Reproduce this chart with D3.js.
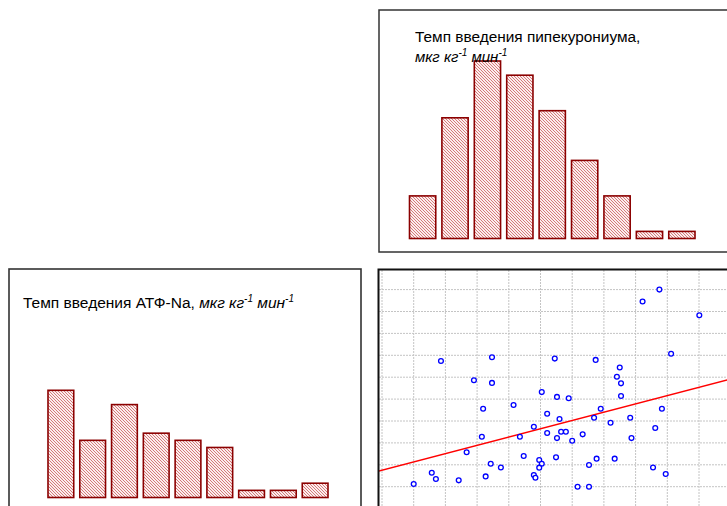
<!DOCTYPE html>
<html>
<head>
<meta charset="utf-8">
<script src="https://cdn.jsdelivr.net/npm/d3@7"></script>
<style>
  html, body { margin: 0; padding: 0; background: #fff; }
  svg { display: block; font-family: "Liberation Sans", Arial, sans-serif; }
</style>
</head>
<body>
<script>
// Histogram: pipecuronium infusion rate (counts per bin)
const pipBins = ["1", "2", "3", "4", "5", "6", "7", "8", "9"];
const pipCounts = [6, 17, 25, 23, 18, 11, 6, 1, 1];

// Histogram: ATP-Na infusion rate (counts per bin)
const atpBins = ["1", "2", "3", "4", "5", "6", "7", "8", "9"];
const atpCounts = [15, 8, 13, 9, 8, 7, 1, 1, 2];

// Scatter: pipecuronium rate (x) vs ATP-Na rate (y), grid units
const scatterX = [8.75, 8.22, 10.01, 9.12, 1.86, 3.47, 5.45, 6.74, 7.50, 7.41,
  7.54, 2.90, 3.47, 5.04, 5.52, 5.89, 7.54, 4.15, 3.19, 6.90,
  8.83, 5.21, 5.60, 6.69, 7.83, 7.21, 4.79, 8.62, 5.21, 5.65,
  5.80, 6.33, 3.15, 4.35, 5.52, 7.87, 6.00, 2.67, 4.47, 5.49,
  6.77, 7.34, 4.96, 3.43, 5.04, 6.53, 3.75, 4.96, 8.55, 1.57,
  8.95, 4.79, 4.84, 3.27, 1.70, 2.42, 1.00, 6.17, 6.53];
const scatterY = [10.00, 9.46, 8.83, 7.07, 6.74, 6.91, 6.85, 6.79, 6.44, 6.02,
  5.72, 5.86, 5.74, 5.32, 5.10, 5.04, 5.14, 4.73, 4.56, 4.56,
  4.56, 4.33, 4.09, 4.15, 4.15, 3.92, 3.74, 3.68, 3.45, 3.51,
  3.51, 3.39, 3.28, 3.28, 3.22, 3.22, 3.10, 2.57, 2.40, 2.34,
  2.28, 2.28, 2.22, 2.05, 2.05, 1.99, 1.88, 1.87, 1.88, 1.64,
  1.58, 1.53, 1.41, 1.47, 1.35, 1.29, 1.12, 1.00, 1.00];

// Regression line y = a + b*x
const fitIntercept = 1.753;
const fitSlope = 0.3785;

// Grid tick values for the scatter panel
const gridX = [0, 1, 2, 3, 4, 5, 6, 7, 8, 9, 10, 11];
const gridY = [1, 2, 3, 4, 5, 6, 7, 8, 9, 10];

const W = 727, H = 506;
const svg = d3.select("body").append("svg")
  .attr("width", W).attr("height", H);

const defs = svg.append("defs");
const hatch = defs.append("pattern")
  .attr("id", "hatch")
  .attr("patternUnits", "userSpaceOnUse")
  .attr("width", 3).attr("height", 3);
hatch.append("rect").attr("width", 3).attr("height", 3).attr("fill", "#fbeeee");
hatch.append("path")
  .attr("d", "M-1,-1 L4,4 M-1,2 L1,4 M2,-1 L4,1")
  .attr("stroke", "#c44848")
  .attr("stroke-width", 0.7);

const clip = defs.append("clipPath").attr("id", "scatterClip");
clip.append("rect").attr("x", 379).attr("y", 270).attr("width", 360).attr("height", 250);

// ---------- panel frames ----------
svg.append("rect")
  .attr("x", 379).attr("y", 10).attr("width", 380).attr("height", 242)
  .attr("fill", "none").attr("stroke", "#333").attr("stroke-width", 1.5);

svg.append("rect")
  .attr("x", 9).attr("y", 269).attr("width", 352).attr("height", 260)
  .attr("fill", "none").attr("stroke", "#333").attr("stroke-width", 1.6);

// ---------- histogram helper ----------
function histogram(bins, counts, x0, x1, base, top, maxCount) {
  const x = d3.scaleBand().domain(bins).range([x0, x1])
    .paddingInner(0.19).paddingOuter(0);
  const y = d3.scaleLinear().domain([0, maxCount]).range([base, top]);
  svg.append("g").selectAll("rect")
    .data(bins.map((b, i) => ({ b, v: counts[i] })))
    .join("rect")
    .attr("x", d => x(d.b))
    .attr("y", d => y(d.v))
    .attr("width", x.bandwidth())
    .attr("height", d => y(0) - y(d.v))
    .attr("fill", "url(#hatch)")
    .attr("stroke", "#8b0000")
    .attr("stroke-width", 1.6);
}

histogram(pipBins, pipCounts, 409.5, 695, 238.5, 61, 25);
histogram(atpBins, atpCounts, 48, 328, 497.5, 390.3, 15);

// ---------- titles ----------
function unitText(sel) {
  sel.append("tspan").attr("font-style", "italic").text("мкг кг");
  sel.append("tspan").attr("font-style", "italic").attr("font-size", 10)
    .attr("dy", -6).text("-1");
  sel.append("tspan").attr("font-style", "italic").attr("dy", 6).text(" мин");
  sel.append("tspan").attr("font-style", "italic").attr("font-size", 10)
    .attr("dy", -6).text("-1");
}

svg.append("text").attr("x", 415).attr("y", 42)
  .attr("font-size", 15.4).attr("fill", "#000")
  .text("Темп введения пипекурониума,");
unitText(svg.append("text").attr("x", 415).attr("y", 61.5)
  .attr("font-size", 15).attr("fill", "#000"));

const t2 = svg.append("text").attr("x", 23).attr("y", 308)
  .attr("font-size", 15.5).attr("fill", "#000");
t2.append("tspan").text("Темп введения АТФ-Na, ");
unitText(t2);

// ---------- scatter ----------
const sx = d3.scaleLinear().domain([0, 10]).range([382, 699]);
const sy = d3.scaleLinear().domain([0, 10]).range([508.6, 289.6]);

const sg = svg.append("g").attr("clip-path", "url(#scatterClip)");

sg.append("g").selectAll("line.gx").data(gridX).join("line")
  .attr("x1", d => sx(d)).attr("x2", d => sx(d))
  .attr("y1", 270).attr("y2", H + 10)
  .attr("stroke", "#c4c4c4").attr("stroke-width", 1)
  .attr("stroke-dasharray", "2,1");

sg.append("g").selectAll("line.gy").data(gridY).join("line")
  .attr("x1", 379).attr("x2", W + 10)
  .attr("y1", d => sy(d)).attr("y2", d => sy(d))
  .attr("stroke", "#c4c4c4").attr("stroke-width", 1)
  .attr("stroke-dasharray", "2,1");

sg.append("line")
  .attr("x1", sx(-0.2)).attr("y1", sy(fitIntercept + fitSlope * -0.2))
  .attr("x2", sx(11.5)).attr("y2", sy(fitIntercept + fitSlope * 11.5))
  .attr("stroke", "#ff0000").attr("stroke-width", 1.4);

sg.append("g").selectAll("circle")
  .data(scatterX.map((v, i) => [v, scatterY[i]]))
  .join("circle")
  .attr("cx", d => sx(d[0])).attr("cy", d => sy(d[1]))
  .attr("r", 2.4)
  .attr("fill", "#fff").attr("stroke", "#0000ff").attr("stroke-width", 1.3);

svg.append("rect")
  .attr("x", 378.5).attr("y", 269.5).attr("width", 380).attr("height", 260)
  .attr("fill", "none").attr("stroke", "#111").attr("stroke-width", 2);
</script>
</body>
</html>
